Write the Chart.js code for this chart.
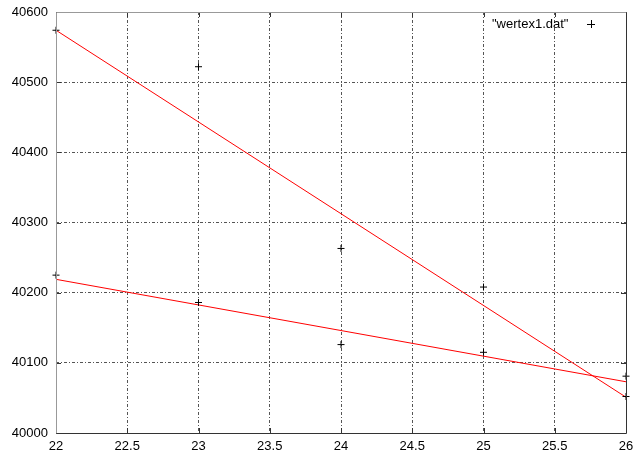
<!DOCTYPE html>
<html>
<head>
<meta charset="utf-8">
<script src="https://cdn.jsdelivr.net/npm/chart.js@4"></script>
<style>
  html, body { margin: 0; padding: 0; background: #fff; }
  #chart { display: block; }
</style>
</head>
<body>
<canvas id="chart" width="634" height="453"></canvas>
<script>
// measured points from wertex1.dat
const pointX = [22, 22, 23, 23, 24, 24, 25, 25, 26, 26];
const pointY = [40574, 40225, 40522, 40186, 40263, 40126, 40208, 40115, 40081, 40052];

// the two fitted lines
const fitX = [22, 26];
const fit1Y = [40574, 40051];
const fit2Y = [40219, 40073];

const xTicks = [22, 22.5, 23, 23.5, 24, 24.5, 25, 25.5, 26];
const yTicks = [40000, 40100, 40200, 40300, 40400, 40500, 40600];

const legendLabel = '"wertex1.dat"';
const FONT = "'Liberation Sans', Arial, Helvetica, sans-serif";

function toXY(xs, ys) {
  return xs.map((x, i) => ({ x: x, y: ys[i] }));
}

// gnuplot-ish frame, inward ticks and key
const gnuplotFrame = {
  id: 'gnuplotFrame',
  afterDraw(chart) {
    const ctx = chart.ctx;
    const a = chart.chartArea;
    const xs = chart.scales.x, ys = chart.scales.y;
    ctx.save();
    ctx.lineWidth = 1;
    ctx.strokeStyle = '#333';
    ctx.beginPath();
    xTicks.forEach(v => {
      const px = Math.round(xs.getPixelForValue(v)) + 0.5;
      ctx.moveTo(px, a.bottom); ctx.lineTo(px, a.bottom - 5);
      ctx.moveTo(px, a.top); ctx.lineTo(px, a.top + 5);
    });
    yTicks.forEach(v => {
      const py = Math.round(ys.getPixelForValue(v)) + 0.5;
      ctx.moveTo(a.left, py); ctx.lineTo(a.left + 5, py);
      ctx.moveTo(a.right, py); ctx.lineTo(a.right - 5, py);
    });
    ctx.stroke();

    const l = Math.round(a.left) + 0.5, r = Math.round(a.right) + 0.5;
    const t = Math.round(a.top) + 0.5, b = Math.round(a.bottom) + 0.5;
    ctx.strokeStyle = '#999';
    ctx.beginPath();
    ctx.moveTo(l, b); ctx.lineTo(l, t); ctx.lineTo(r, t);
    ctx.stroke();
    ctx.strokeStyle = '#333';
    ctx.beginPath();
    ctx.moveTo(l, b); ctx.lineTo(r, b); ctx.lineTo(r, t);
    ctx.stroke();

    // key
    ctx.fillStyle = '#000';
    ctx.font = '13px ' + FONT;
    ctx.textAlign = 'left';
    ctx.textBaseline = 'middle';
    ctx.fillText(legendLabel, 492, 24);
    ctx.strokeStyle = '#000';
    ctx.beginPath();
    ctx.moveTo(587, 24.5); ctx.lineTo(595, 24.5);
    ctx.moveTo(591.5, 20); ctx.lineTo(591.5, 28);
    ctx.stroke();
    ctx.restore();
  }
};

new Chart(document.getElementById('chart'), {
  type: 'scatter',
  data: {
    datasets: [
      {
        label: legendLabel,
        data: toXY(pointX, pointY),
        pointStyle: 'cross',
        pointRadius: 3.5,
        pointBorderColor: '#000',
        pointBorderWidth: 1,
        clip: false
      },
      {
        label: 'fit1',
        data: toXY(fitX, fit1Y),
        showLine: true,
        borderColor: '#ff0000',
        borderWidth: 1,
        pointRadius: 0
      },
      {
        label: 'fit2',
        data: toXY(fitX, fit2Y),
        showLine: true,
        borderColor: '#ff0000',
        borderWidth: 1,
        pointRadius: 0
      }
    ]
  },
  options: {
    responsive: false,
    animation: false,
    layout: { padding: { top: 12, right: 8, left: 0, bottom: 0 } },
    plugins: {
      legend: { display: false },
      tooltip: { enabled: false }
    },
    scales: {
      x: {
        type: 'linear',
        min: 22,
        max: 26,
        afterBuildTicks: s => { s.ticks = xTicks.map(v => ({ value: v })); },
        afterFit: s => { s.height = 20; s.paddingLeft = 0; s.paddingRight = 0; },
        ticks: {
          color: '#000',
          font: { family: FONT, size: 13 },
          padding: 6,
          maxRotation: 0,
          callback: v => String(v)
        },
        grid: { color: '#555', lineWidth: 1, drawTicks: false },
        border: { display: false, dash: [3, 2, 1, 2] }
      },
      y: {
        type: 'linear',
        min: 40000,
        max: 40600,
        afterBuildTicks: s => { s.ticks = yTicks.map(v => ({ value: v })); },
        afterFit: s => { s.width = 56; s.paddingTop = 0; s.paddingBottom = 0; },
        ticks: {
          color: '#000',
          font: { family: FONT, size: 13 },
          padding: 8,
          callback: v => String(v)
        },
        grid: { color: '#555', lineWidth: 1, drawTicks: false },
        border: { display: false, dash: [3, 2, 1, 2] }
      }
    }
  },
  plugins: [gnuplotFrame]
});
</script>
</body>
</html>
